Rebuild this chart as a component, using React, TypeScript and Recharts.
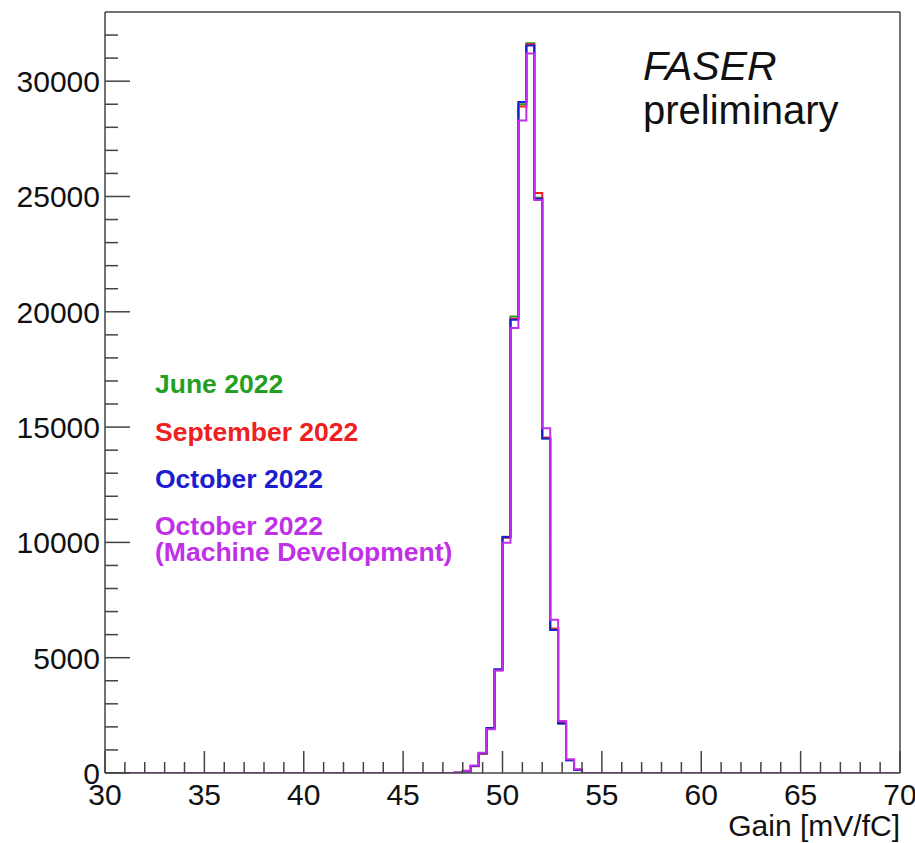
import React from "react";
import { LineChart, Line, XAxis, YAxis, ReferenceLine } from "recharts";

// Bin low edges (bin width 0.4 mV/fC); 30 and 70 are the histogram range ends
const binEdges = [30, 47.6, 48.0, 48.4, 48.8, 49.2, 49.6, 50.0, 50.4, 50.8, 51.2, 51.6, 52.0, 52.4, 52.8, 53.2, 53.6, 54.0, 70];
const june2022 = [0, 10, 80, 300, 850, 1950, 4480, 10250, 19800, 29000, 31650, 24950, 14500, 6250, 2150, 550, 130, 0, 0];
const september2022 = [0, 10, 80, 290, 840, 1930, 4460, 10200, 19700, 28900, 31600, 25150, 14550, 6250, 2170, 560, 140, 0, 0];
const october2022 = [0, 10, 80, 300, 860, 1950, 4500, 10230, 19650, 29100, 31550, 24900, 14500, 6200, 2150, 550, 130, 0, 0];
const october2022MD = [0, 20, 100, 320, 880, 1900, 4450, 9980, 19300, 28300, 31200, 24850, 14950, 6650, 2250, 600, 160, 0, 0];

const xTicks = [30, 31, 32, 33, 34, 35, 36, 37, 38, 39, 40, 41, 42, 43, 44, 45, 46, 47, 48, 49, 50, 51, 52, 53, 54, 55, 56, 57, 58, 59, 60, 61, 62, 63, 64, 65, 66, 67, 68, 69, 70];
const xMajorTicks = [30, 35, 40, 45, 50, 55, 60, 65, 70];
const yTicks = [0, 1000, 2000, 3000, 4000, 5000, 6000, 7000, 8000, 9000, 10000, 11000, 12000, 13000, 14000, 15000, 16000, 17000, 18000, 19000, 20000, 21000, 22000, 23000, 24000, 25000, 26000, 27000, 28000, 29000, 30000, 31000, 32000];
const yMajorTicks = [0, 5000, 10000, 15000, 20000, 25000, 30000];

const seriesNames = ["June 2022", "September 2022", "October 2022", "October 2022"];
const seriesColors = ["#23a023", "#f02020", "#1c1cd0", "#c030e8"];

const data = binEdges.map((x, i) => ({
  x,
  june: june2022[i],
  sep: september2022[i],
  oct: october2022[i],
  octMD: october2022MD[i],
}));

const FONT = "'Liberation Sans', Arial, Helvetica, sans-serif";
const AX = "#444";

const XTick = (props: any) => {
  const { x, y, payload } = props;
  const v = payload.value;
  const major = xMajorTicks.includes(v);
  return (
    <g>
      <line x1={x} x2={x} y1={y} y2={y - (major ? 22 : 11)} stroke={AX} strokeWidth={1.5} />
      {major && (
        <text x={x} y={y + 32} textAnchor="middle" fontSize={30} fill="#111" fontFamily={FONT}>
          {v}
        </text>
      )}
    </g>
  );
};

const YTick = (props: any) => {
  const { x, y, payload } = props;
  const v = payload.value;
  const major = yMajorTicks.includes(v);
  return (
    <g>
      <line x1={x} x2={x + (major ? 25 : 13)} y1={y} y2={y} stroke={AX} strokeWidth={1.5} />
      {major && (
        <text x={x - 5} y={y + 11} textAnchor="end" fontSize={30} fill="#111" fontFamily={FONT}>
          {v}
        </text>
      )}
    </g>
  );
};

export default function App() {
  return (
    <div style={{ position: "absolute", left: 0, top: 0, width: 915, height: 843, background: "#fff" }}>
      <LineChart
        width={915}
        height={843}
        data={data}
        margin={{ top: 12, right: 15, bottom: 0, left: 0 }}
      >
        <XAxis
          dataKey="x"
          type="number"
          domain={[30, 70]}
          ticks={xTicks}
          interval={0}
          tick={<XTick />}
          tickLine={false}
          tickSize={0}
          tickMargin={0}
          height={70}
          axisLine={{ stroke: AX, strokeWidth: 1.5 }}
          allowDataOverflow
        />
        <YAxis
          type="number"
          domain={[0, 33000]}
          ticks={yTicks}
          interval={0}
          tick={<YTick />}
          tickLine={false}
          tickSize={0}
          tickMargin={0}
          width={105}
          axisLine={{ stroke: AX, strokeWidth: 1.5 }}
          allowDataOverflow
        />
        <ReferenceLine y={33000} stroke={AX} strokeWidth={1.5} />
        <ReferenceLine x={70} stroke={AX} strokeWidth={1.5} />
        <Line dataKey="june" type="stepAfter" stroke={seriesColors[0]} strokeWidth={2} dot={false} isAnimationActive={false} />
        <Line dataKey="sep" type="stepAfter" stroke={seriesColors[1]} strokeWidth={2} dot={false} isAnimationActive={false} />
        <Line dataKey="oct" type="stepAfter" stroke={seriesColors[2]} strokeWidth={2} dot={false} isAnimationActive={false} />
        <Line dataKey="octMD" type="stepAfter" stroke={seriesColors[3]} strokeWidth={2} dot={false} isAnimationActive={false} />
      </LineChart>
      <svg width={915} height={843} style={{ position: "absolute", left: 0, top: 0, pointerEvents: "none" }}>
        <text x={643} y={80} fontSize={41} fontStyle="italic" fill="#111" fontFamily={FONT}>FASER</text>
        <text x={643} y={124} fontSize={40} fill="#111" fontFamily={FONT}>preliminary</text>
        <text x={155} y={393} fontSize={26.5} fontWeight="bold" fill={seriesColors[0]} fontFamily={FONT}>{seriesNames[0]}</text>
        <text x={155} y={441} fontSize={26.5} fontWeight="bold" fill={seriesColors[1]} fontFamily={FONT}>{seriesNames[1]}</text>
        <text x={155} y={488} fontSize={26.5} fontWeight="bold" fill={seriesColors[2]} fontFamily={FONT}>{seriesNames[2]}</text>
        <text x={155} y={535} fontSize={26.5} fontWeight="bold" fill={seriesColors[3]} fontFamily={FONT}>{seriesNames[3]}</text>
        <text x={155} y={561} fontSize={26.5} fontWeight="bold" fill={seriesColors[3]} fontFamily={FONT}>(Machine Development)</text>
        <text x={900} y={836} fontSize={30} textAnchor="end" fill="#111" fontFamily={FONT}>Gain [mV/fC]</text>
      </svg>
    </div>
  );
}
